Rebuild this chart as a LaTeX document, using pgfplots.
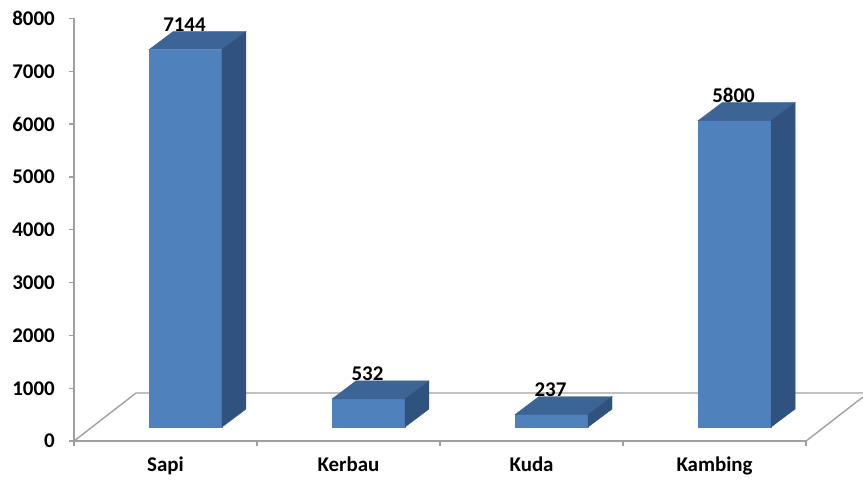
\documentclass[border=0pt]{standalone}
\usepackage{fontspec}
\setmainfont{Carlito}
\usepackage{pgfplots}
\usepackage{pgfplotstable}
\pgfplotsset{compat=1.18}
\definecolor{frontc}{HTML}{4F81BD}
\definecolor{topc}{HTML}{3C6596}
\definecolor{sidec}{HTML}{30527E}
\definecolor{floorc}{HTML}{A0A0A0}

\pgfplotstableread{
x v
0 7144
1 532
2 237
3 5800
}\data

% 3D bar drawn around the data point (x, v)
\pgfdeclareplotmark{cuboid}{%
  \pgfmathsetmacro\yb{265-\val}%
  \pgfmathsetmacro\ybb{606-\val}%
  \fill[frontc] (axis direction cs:-0.0902,\yb) rectangle (axis direction cs:0.3087,265);
  \fill[topc] (axis direction cs:-0.0902,265) -- (axis direction cs:0.3087,265)
     -- (axis direction cs:0.4398,606) -- (axis direction cs:0.0409,606) -- cycle;
  \fill[sidec] (axis direction cs:0.3087,\yb) -- (axis direction cs:0.4398,\ybb)
     -- (axis direction cs:0.4398,606) -- (axis direction cs:0.3087,265) -- cycle;
}

\begin{document}
\begin{tikzpicture}
\begin{axis}[
  scale only axis,
  width=732bp, height=422.5bp,
  xmin=-0.5, xmax=3.5,
  ymin=0, ymax=8000,
  clip=false,
  axis x line*=bottom,
  axis y line*=left,
  axis line style={floorc, line width=1.4bp},
  every tick/.style={floorc, line width=1.4bp},
  tick align=outside,
  major tick length=5bp,
  minor tick length=5bp,
  xtick={0,1,2,3},
  xticklabels={Sapi,Kerbau,Kuda,Kambing},
  major x tick style={draw=none},
  minor xtick={-0.5,0.5,1.5,2.5,3.5},
  ytick={0,1000,2000,3000,4000,5000,6000,7000,8000},
  yticklabels={0,1000,2000,3000,4000,5000,6000,7000,8000},
  ticklabel style={font=\fontsize{21}{25}\selectfont\bfseries, text=black},
  xticklabel style={anchor=north, text height=13bp, text depth=4bp, inner sep=0pt, yshift=-12bp},
  yticklabel style={anchor=east, inner sep=0pt, xshift=-14bp},
]
% floor
\addplot[floorc, line width=1.4bp] coordinates {(-0.5,0) (-0.161,909) (3.811,909)};
\addplot[floorc, line width=1.4bp] coordinates {(3.5,0) (3.811,836)};
% bars
\addplot[only marks, mark=cuboid,
  visualization depends on={\thisrow{v} \as \val},
  point meta=explicit symbolic,
  nodes near coords,
  every node near coord/.style={anchor=base, xshift=19bp, yshift=32bp, inner sep=0pt,
     font=\fontsize{21}{25}\selectfont\bfseries, text=black},
] table[x=x, y=v, meta=v] {\data};
\coordinate (bl) at (axis cs:-0.904,-757);
\coordinate (tr) at (axis cs:3.811,8350);
\end{axis}
\pgfresetboundingbox
\useasboundingbox (bl) rectangle (tr);
\end{tikzpicture}
\end{document}
